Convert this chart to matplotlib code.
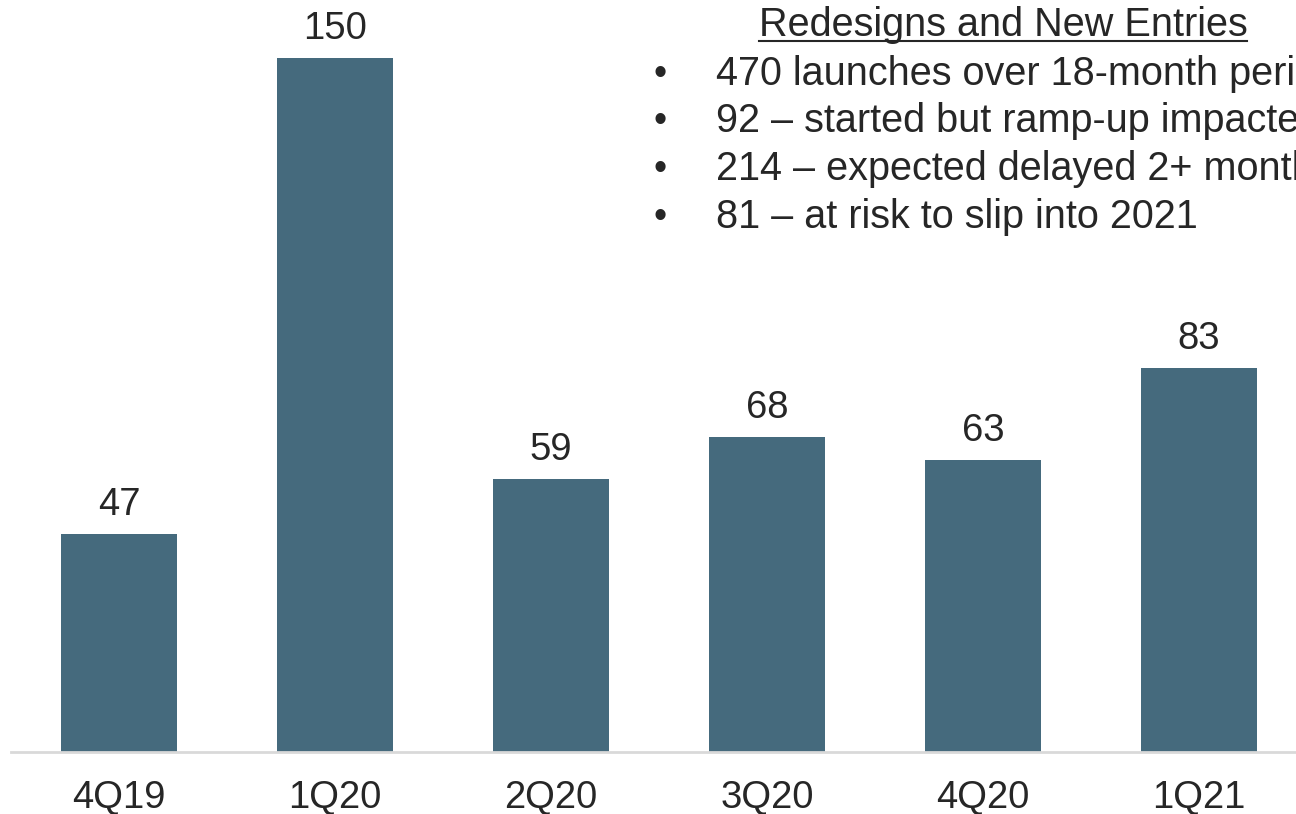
import matplotlib.pyplot as plt
from matplotlib.lines import Line2D

quarters = ['4Q19', '1Q20', '2Q20', '3Q20', '4Q20', '1Q21']
launches = [47, 150, 59, 68, 63, 83]

note_title = 'Redesigns and New Entries'
note_lines = [
    '470 launches over 18-month period',
    '92 \u2013 started but ramp-up impacted',
    '214 \u2013 expected delayed 2+ months',
    '81 \u2013 at risk to slip into 2021',
]

if __name__ == '__main__':
    plt.rcParams['font.family'] = ['Liberation Sans', 'DejaVu Sans']
    text_color = '#262626'
    bar_color = '#456A7D'

    W, H = 1296, 814
    fig = plt.figure(figsize=(W / 100, H / 100), dpi=100)
    ax = fig.add_axes([11 / W, (H - 752) / H, 1 - 11 / W, 752 / H])

    x = range(len(quarters))
    bars = ax.bar(x, launches, width=0.537, color=bar_color, zorder=2)
    for rect, v in zip(bars, launches):
        ax.annotate(str(v), (rect.get_x() + rect.get_width() / 2, v),
                    xytext=(0, 8), textcoords='offset points',
                    ha='center', va='bottom', fontsize=27.5, color=text_color)

    ax.set_xlim(-0.5, 5.45)
    ax.set_ylim(0, 162.5)
    ax.set_xticks(list(x))
    ax.set_xticklabels(quarters, fontsize=27.5, color=text_color)
    ax.tick_params(axis='x', length=0, pad=20)
    ax.set_yticks([])
    for side in ['top', 'right', 'left']:
        ax.spines[side].set_visible(False)
    ax.spines['bottom'].set_color('#D9D9D9')
    ax.spines['bottom'].set_linewidth(2)

    # note block in the upper right, runs past the figure edge like the source
    def fy(py):
        return 1 - py / H

    title = fig.text(1003 / W, fy(36), note_title, ha='center', va='baseline',
                     fontsize=28.5, color=text_color)
    for i, line in enumerate(note_lines):
        yb = fy(85 + i * 47.5)
        fig.text(660 / W, yb, '\u2022', ha='center', va='baseline',
                 fontsize=27, color=text_color)
        fig.text(716 / W, yb, line, ha='left', va='baseline',
                 fontsize=28.5, color=text_color)

    fig.canvas.draw()
    bb = title.get_window_extent()
    fig.add_artist(Line2D([bb.x0 / W, bb.x1 / W], [fy(41), fy(41)],
                          transform=fig.transFigure, color=text_color, lw=1.5))

    plt.savefig('out.png', dpi=100)
    plt.close()
